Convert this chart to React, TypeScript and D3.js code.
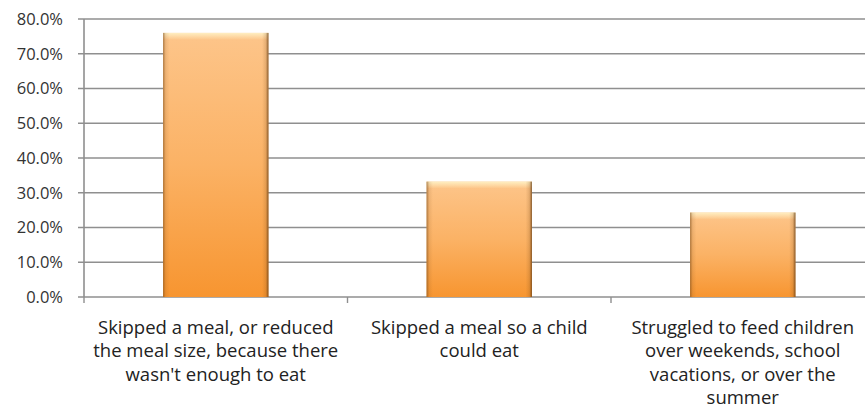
import React from "react";
import * as d3 from "d3";

const categories: string[][] = [
  ["Skipped a meal, or reduced", "the meal size, because there", "wasn't enough to eat"],
  ["Skipped a meal so a child", "could eat"],
  ["Struggled to feed children", "over weekends, school", "vacations, or over the", "summer"],
];
const values: number[] = [0.76, 0.332, 0.243];
const yTicks: number[] = [0, 0.1, 0.2, 0.3, 0.4, 0.5, 0.6, 0.7, 0.8];

const W = 865;
const H = 415;
const left = 84;
const top = 19;
const bottom = 297;
const band = 263.5;
const right = left + band * categories.length;

export default function App() {
  const x = d3
    .scaleBand<number>()
    .domain(d3.range(categories.length))
    .range([left, right])
    .paddingInner(0.6)
    .paddingOuter(0.3);
  const xb = d3.scaleBand<number>().domain(d3.range(categories.length)).range([left, right]);
  const y = d3.scaleLinear().domain([0, 0.8]).range([bottom, top]);
  const fmt = d3.format(".1%");
  const font = "'Open Sans', 'DejaVu Sans', sans-serif";

  return (
    <svg
      width={W}
      height={H}
      style={{ position: "fixed", left: 0, top: 0, background: "#fff" }}
    >
      <defs>
        <linearGradient id="barV" x1="0" y1="0" x2="0" y2="1">
          <stop offset="0" stopColor="#fdc58a" />
          <stop offset="0.5" stopColor="#fbb265" />
          <stop offset="1" stopColor="#f79530" />
        </linearGradient>
        <linearGradient id="barH" x1="0" y1="0" x2="1" y2="0">
          <stop offset="0" stopColor="#7a4a18" stopOpacity="0.6" />
          <stop offset="0.025" stopColor="#7a4a18" stopOpacity="0.12" />
          <stop offset="0.06" stopColor="#7a4a18" stopOpacity="0" />
          <stop offset="0.94" stopColor="#7a4a18" stopOpacity="0" />
          <stop offset="0.975" stopColor="#7a4a18" stopOpacity="0.18" />
          <stop offset="1" stopColor="#5a3510" stopOpacity="0.75" />
        </linearGradient>
        <linearGradient id="topHi" x1="0" y1="0" x2="0" y2="1">
          <stop offset="0" stopColor="#fff3c8" stopOpacity="0.9" />
          <stop offset="1" stopColor="#fff3c8" stopOpacity="0" />
        </linearGradient>
      </defs>

      {yTicks.map((t) => (
        <g key={t}>
          <line
            x1={left - 6}
            x2={W}
            y1={y(t)}
            y2={y(t)}
            stroke="#8f8f8f"
            strokeWidth={1.6}
          />
          <text
            x={63}
            y={y(t)}
            dy="0.36em"
            textAnchor="end"
            fontFamily={font}
            fontSize={16.5}
            fill="#333"
          >
            {fmt(t)}
          </text>
        </g>
      ))}

      <line x1={left} x2={left} y1={top} y2={bottom} stroke="#8f8f8f" strokeWidth={1.6} />

      {d3.range(categories.length + 1).map((i) => (
        <line
          key={i}
          x1={left + i * band}
          x2={left + i * band}
          y1={bottom}
          y2={bottom + 6}
          stroke="#8f8f8f"
          strokeWidth={1.4}
        />
      ))}

      {values.map((v, i) => {
        const bx = x(i)!;
        const bw = x.bandwidth();
        const by = y(v);
        const bh = bottom - by;
        return (
          <g key={i}>
            <rect x={bx} y={by} width={bw} height={bh} fill="url(#barV)" />
            <rect x={bx} y={by} width={bw} height={Math.min(7, bh)} fill="url(#topHi)" />
            <rect x={bx} y={by} width={bw} height={bh} fill="url(#barH)" />
          </g>
        );
      })}

      {categories.map((lines, i) => {
        const cx = xb(i)! + xb.bandwidth() / 2;
        return (
          <text
            key={i}
            textAnchor="middle"
            fontFamily={font}
            fontSize={18.5}
            fill="#222"
          >
            {lines.map((l, j) => (
              <tspan key={j} x={cx} y={334 + j * 23.3}>
                {l}
              </tspan>
            ))}
          </text>
        );
      })}
    </svg>
  );
}
